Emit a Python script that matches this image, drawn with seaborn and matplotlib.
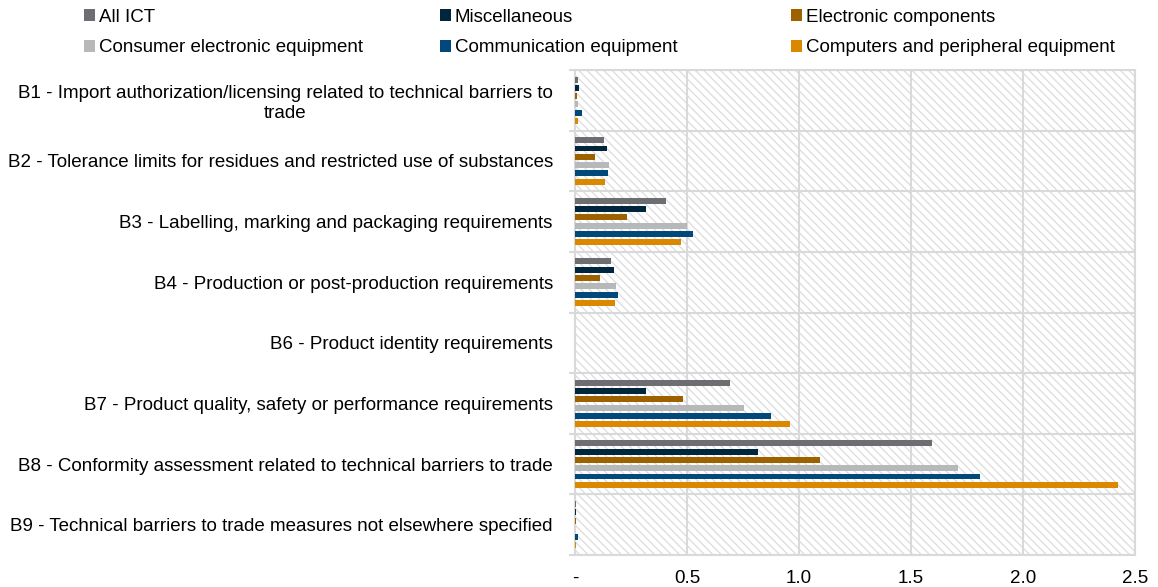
import numpy as np
import pandas as pd
import seaborn as sns
import matplotlib.pyplot as plt
from matplotlib.patches import Rectangle, Patch

# data
categories = [
    "B1 - Import authorization/licensing related to technical barriers to\ntrade",
    "B2 - Tolerance limits for residues and restricted use of substances",
    "B3 - Labelling, marking and packaging requirements",
    "B4 - Production or post-production requirements",
    "B6 - Product identity requirements",
    "B7 - Product quality, safety or performance requirements",
    "B8 - Conformity assessment related to technical barriers to trade",
    "B9 - Technical barriers to trade measures not elsewhere specified",
]
series = ["All ICT", "Miscellaneous", "Electronic components",
          "Consumer electronic equipment", "Communication equipment",
          "Computers and peripheral equipment"]
all_ict = [0.015, 0.128, 0.407, 0.161, 0.0, 0.691, 1.593, 0.004]
misc = [0.020, 0.143, 0.319, 0.176, 0.0, 0.317, 0.816, 0.003]
electronic = [0.009, 0.090, 0.234, 0.112, 0.0, 0.481, 1.093, 0.005]
consumer = [0.012, 0.150, 0.499, 0.182, 0.0, 0.754, 1.709, 0.001]
communication = [0.033, 0.149, 0.528, 0.192, 0.0, 0.877, 1.810, 0.013]
computers = [0.013, 0.134, 0.473, 0.178, 0.0, 0.960, 2.422, 0.005]
colors = ["#6d6e71", "#00263e", "#9e6100", "#b7b8ba", "#00497a", "#d98800"]
xticks = [0, 0.5, 1.0, 1.5, 2.0, 2.5]
xtick_labels = ["-", "0.5", "1.0", "1.5", "2.0", "2.5"]

values = [all_ict, misc, electronic, consumer, communication, computers]
df = pd.DataFrame([
    {"category": c, "series": s, "value": v}
    for s, vals in zip(series, values)
    for c, v in zip(categories, vals)
])

plt.rcParams['font.family'] = ['Liberation Sans', 'DejaVu Sans']
plt.rcParams['hatch.linewidth'] = 0.9
fs = 13.5

fig = plt.figure(figsize=(11.58, 5.87), dpi=100)
ax = fig.add_axes([575 / 1158, 1 - 555 / 587, 560 / 1158, 485 / 587])

grid_col = "#d9d9d9"
# hatched background
ax.add_patch(Rectangle((0, 0), 1, 1, transform=ax.transAxes, facecolor="white",
                       edgecolor="#dcdcdc", hatch="\\\\\\\\", linewidth=0, zorder=0))

sns.barplot(data=df, x="value", y="category", hue="series", hue_order=series,
            order=categories, palette=colors, orient="h", width=0.82, gap=0.28,
            linewidth=0, saturation=1, ax=ax, zorder=3)
ax.get_legend().remove()

ax.set_xlim(0, 2.5)
ax.set_ylim(len(categories) - 0.5, -0.5)
ax.set_xlabel("")
ax.set_ylabel("")

ax.set_xticks(xticks)
ax.set_xticklabels(xtick_labels, fontsize=fs)
ax.tick_params(axis="x", length=0, pad=11)
ax.tick_params(axis="y", which="major", length=0, pad=16, labelsize=fs)
for lbl in ax.get_yticklabels():
    lbl.set_multialignment("center")

ax.set_yticks(np.arange(len(categories) + 1) - 0.5, minor=True)
ax.tick_params(axis="y", which="minor", length=4, color=grid_col, width=1.5)
ax.grid(axis="x", which="major", color=grid_col, linewidth=1.5, zorder=1)
ax.grid(axis="y", which="minor", color=grid_col, linewidth=1.5, zorder=1)
ax.set_axisbelow(True)
for sp in ax.spines.values():
    sp.set_color(grid_col)
    sp.set_linewidth(1.5)

# legend in three columns laid out row-wise
handles = [Patch(facecolor=c, edgecolor="none") for c in colors]
col_x = [84, 440, 791]
for i, x in enumerate(col_x):
    idx = [i, i + 3]
    fig.legend([handles[j] for j in idx], [series[j] for j in idx],
               loc="upper left", bbox_to_anchor=(x / 1158, 1 - 9 / 587),
               frameon=False, fontsize=fs, handlelength=0.6, handleheight=0.6,
               handletextpad=0.2, labelspacing=0.72, borderpad=0, borderaxespad=0)

fig.savefig("out.png", dpi=100)
